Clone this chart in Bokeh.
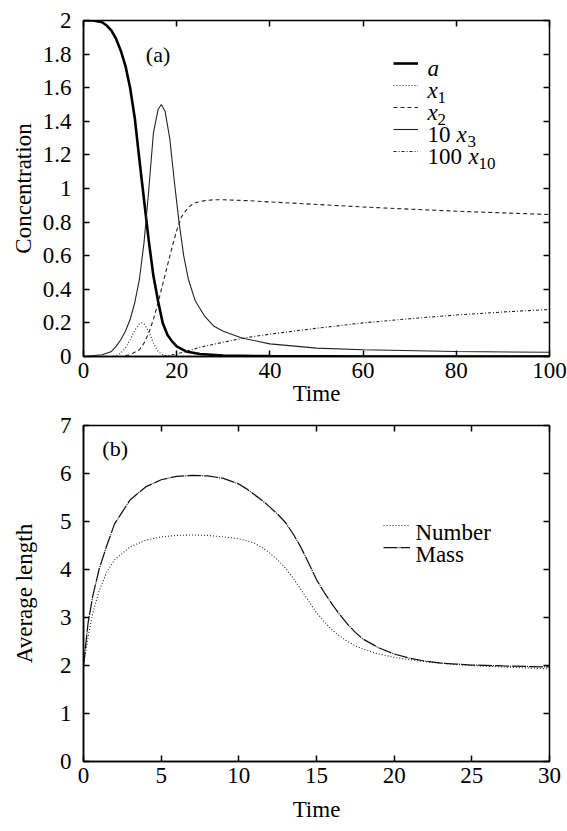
from bokeh.plotting import figure
from bokeh.models import (LinearAxis, FixedTicker, CustomJSTickFormatter, Label,
                          Legend, LegendItem, Range1d)
from bokeh.layouts import column
from bokeh.embed import file_html
from bokeh.resources import INLINE
from bokeh.core.properties import value

FONT = "Liberation Serif"
FS = "23px"

# ---------------- panel (a) data ----------------
t_a = [0, 2, 4, 5, 6, 7, 8, 9, 10, 11, 12, 13, 14, 15, 16, 17, 18, 19, 20, 22, 25, 30, 40, 60, 100]
a_vals = [2.0, 2.0, 1.99, 1.97, 1.94, 1.89, 1.82, 1.73, 1.6, 1.42, 1.17, 0.93, 0.69, 0.48, 0.33,
          0.2, 0.13, 0.09, 0.06, 0.03, 0.015, 0.006, 0.002, 0.0, 0.0]

t_x1 = [0, 6, 7, 8, 9, 10, 11, 12, 12.5, 13, 14, 15, 16, 17, 18, 20, 100]
x1_vals = [0, 0.0, 0.005, 0.02, 0.05, 0.1, 0.155, 0.195, 0.2, 0.195, 0.15, 0.08, 0.03, 0.01, 0.003, 0.0, 0.0]

t_x2 = [0, 8, 10, 12, 13, 14, 15, 16, 17, 18, 19, 20, 21, 22, 23, 24, 26, 28, 30, 35, 40, 50, 60,
        70, 80, 90, 100]
x2_vals = [0, 0.0, 0.01, 0.04, 0.08, 0.14, 0.22, 0.32, 0.43, 0.54, 0.65, 0.75, 0.83, 0.87, 0.9,
           0.915, 0.928, 0.933, 0.933, 0.928, 0.92, 0.905, 0.89, 0.877, 0.865, 0.855, 0.845]

t_x3 = [0, 4, 6, 7, 8, 9, 10, 11, 12, 13, 14, 15, 16, 16.7, 17.5, 18.5, 19.5, 20.5, 21.5, 22.5,
        24, 26, 28, 30, 34, 40, 50, 60, 80, 100]
x3_x10_vals = [0, 0.01, 0.03, 0.06, 0.1, 0.15, 0.22, 0.32, 0.46, 0.68, 0.99, 1.33, 1.47, 1.5, 1.46,
               1.3, 1.04, 0.8, 0.6, 0.46, 0.33, 0.24, 0.18, 0.15, 0.11, 0.075, 0.05, 0.04, 0.03, 0.025]

t_x10 = [0, 16, 18, 20, 22, 25, 30, 35, 40, 50, 60, 70, 80, 90, 100]
x10_x100_vals = [0, 0, 0.005, 0.015, 0.03, 0.055, 0.085, 0.113, 0.133, 0.168, 0.2, 0.225, 0.247,
                 0.265, 0.28]

xticks_a = [0, 20, 40, 60, 80, 100]
yticks_a = [0, 0.2, 0.4, 0.6, 0.8, 1, 1.2, 1.4, 1.6, 1.8, 2]

# ---------------- panel (b) data ----------------
t_b = [0, 0.3, 0.6, 1, 1.5, 2, 3, 4, 5, 6, 7, 8, 9, 10, 10.5, 11, 11.5, 12, 12.5, 13, 13.5, 14,
       14.5, 15, 15.5, 16, 16.5, 17, 17.5, 18, 19, 20, 21, 22, 23, 24, 25, 27, 30]
mass_vals = [2.0, 2.9, 3.45, 4.0, 4.5, 4.95, 5.45, 5.72, 5.87, 5.94, 5.96, 5.95, 5.9, 5.78, 5.68,
             5.56, 5.44, 5.3, 5.15, 4.98, 4.74, 4.46, 4.13, 3.79, 3.52, 3.28, 3.06, 2.86, 2.69,
             2.55, 2.37, 2.24, 2.15, 2.09, 2.05, 2.03, 2.01, 1.99, 1.97]
number_vals = [2.0, 2.6, 3.1, 3.55, 3.95, 4.2, 4.47, 4.61, 4.68, 4.71, 4.72, 4.71, 4.68, 4.64, 4.6,
               4.55, 4.46, 4.34, 4.2, 4.03, 3.82, 3.58, 3.34, 3.1, 2.91, 2.74, 2.61, 2.5, 2.41,
               2.34, 2.24, 2.17, 2.12, 2.08, 2.05, 2.02, 2.0, 1.97, 1.93]

xticks_b = [0, 5, 10, 15, 20, 25, 30]
yticks_b = [0, 1, 2, 3, 4, 5, 6, 7]

TICK_FMT = "return tick.toString()"


def make_fig(xr, yr, xticks, yticks, xlabel, ylabel, top_border, bottom_border,
             ylab_standoff, xlab_standoff):
    p = figure(output_backend="svg", toolbar_location=None,
               frame_width=466, frame_height=336,
               x_range=Range1d(*xr), y_range=Range1d(*yr),
               min_border_left=83, min_border_right=18,
               min_border_top=top_border, min_border_bottom=bottom_border,
               background_fill_color="white", border_fill_color="white")
    p.grid.visible = False
    p.outline_line_color = "black"
    p.outline_line_width = 1.5
    for ax, ticks in ((p.xaxis[0], xticks), (p.yaxis[0], yticks)):
        ax.ticker = FixedTicker(ticks=ticks)
        ax.formatter = CustomJSTickFormatter(code=TICK_FMT)
        ax.major_tick_in = 6
        ax.major_tick_out = 0
        ax.minor_tick_line_color = None
        ax.major_tick_line_width = 1.5
        ax.axis_line_width = 1.5
        ax.major_label_text_font = FONT
        ax.major_label_text_font_size = FS
        ax.major_label_text_color = "black"
        ax.axis_label_text_font = FONT
        ax.axis_label_text_font_size = FS
        ax.axis_label_text_font_style = "normal"
        ax.axis_label_text_color = "black"
    p.xaxis.axis_label = xlabel
    p.yaxis.axis_label = ylabel
    p.xaxis.major_label_standoff = 6
    p.xaxis.axis_label_standoff = xlab_standoff
    p.yaxis.major_label_standoff = 12
    p.yaxis.axis_label_standoff = ylab_standoff
    # mirrored ticks on top and right
    for loc, ticks in (("above", xticks), ("right", yticks)):
        m = LinearAxis(ticker=FixedTicker(ticks=ticks), major_tick_in=6, major_tick_out=0,
                       major_tick_line_width=1.5, minor_tick_line_color=None,
                       axis_line_color=None, major_label_text_font_size="1px",
                       major_label_text_color=None, major_label_standoff=0)
        p.add_layout(m, loc)
    return p


def lab(p, x, y, text, size=FS, style="normal", dx=0, dy=0):
    p.add_layout(Label(x=x, y=y, text=text, x_offset=dx, y_offset=dy,
                       text_font=FONT, text_font_size=size, text_font_style=style,
                       text_color="black", text_baseline="alphabetic", text_align="left"))


def sample_legend(renderers, loc, glyph_width):
    return Legend(items=[LegendItem(label=value(" "), renderers=[r]) for r in renderers],
                  location=loc, glyph_width=glyph_width, glyph_height=22, label_height=22,
                  label_width=1, label_standoff=0, spacing=0, padding=0, margin=0,
                  border_line_color=None, background_fill_alpha=0,
                  label_text_font_size="8px")


# ---------------- panel (a) ----------------
pa = make_fig((0, 100), (0, 2), xticks_a, yticks_a, "Time", "Concentration", 20, 55, 4, 0)
r_a = pa.line(t_a, a_vals, line_color="black", line_width=2.6)
r_x1 = pa.line(t_x1, x1_vals, line_color="#222222", line_width=1.1, line_dash="1 2")
r_x2 = pa.line(t_x2, x2_vals, line_color="#222222", line_width=1.1, line_dash="4 3")
r_x3 = pa.line(t_x3, x3_x10_vals, line_color="#222222", line_width=1.1)
r_x10 = pa.line(t_x10, x10_x100_vals, line_color="#222222", line_width=1.1, line_dash="3 2 1 2")

pa.add_layout(sample_legend([r_a, r_x1, r_x2, r_x3, r_x10], (310, 194), 25))

rows_a = [1.750, 1.619, 1.488, 1.357, 1.226]
X_TXT_A = 73.8

lab(pa, X_TXT_A, rows_a[0], "a", style="italic", dy=-6)
lab(pa, X_TXT_A, rows_a[1], "x", style="italic", dy=-6)
lab(pa, X_TXT_A, rows_a[1], "1", size="17px", dx=10, dy=-13)
lab(pa, X_TXT_A, rows_a[2], "x", style="italic", dy=-6)
lab(pa, X_TXT_A, rows_a[2], "2", size="17px", dx=10, dy=-13)
lab(pa, X_TXT_A, rows_a[3], "10", dy=-6)
lab(pa, X_TXT_A, rows_a[3], "x", style="italic", dx=29, dy=-6)
lab(pa, X_TXT_A, rows_a[3], "3", size="17px", dx=40, dy=-13)
lab(pa, X_TXT_A, rows_a[4], "100", dy=-6)
lab(pa, X_TXT_A, rows_a[4], "x", style="italic", dx=41, dy=-6)
lab(pa, X_TXT_A, rows_a[4], "10", size="17px", dx=51, dy=-13)

pa.add_layout(Label(x=16, y=1.8, text="(a)", text_font=FONT, text_font_size="22px",
                    text_align="center", text_baseline="middle", text_color="black"))

# ---------------- panel (b) ----------------
pb = make_fig((0, 30), (0, 7), xticks_b, yticks_b, "Time", "Average length", 14, 58, 20, 11)
r_num = pb.line(t_b, number_vals, line_color="#222222", line_width=1.1, line_dash="1 2")
r_mass = pb.line(t_b, mass_vals, line_color="#111111", line_width=1.25, line_dash="14 1 1 1")

pb.add_layout(sample_legend([r_num, r_mass], (300, 203), 27))

rows_b = [4.92, 4.46]
X_TXT_B = 21.37
lab(pb, X_TXT_B, rows_b[0], "Number", dy=-7)
lab(pb, X_TXT_B, rows_b[1], "Mass", dy=-7)

pb.add_layout(Label(x=2.04, y=6.52, text="(b)", text_font=FONT, text_font_size="22px",
                    text_align="center", text_baseline="middle", text_color="black"))

layout = column(pa, pb, spacing=0)
open("out.html", "w").write(file_html(layout, INLINE))
